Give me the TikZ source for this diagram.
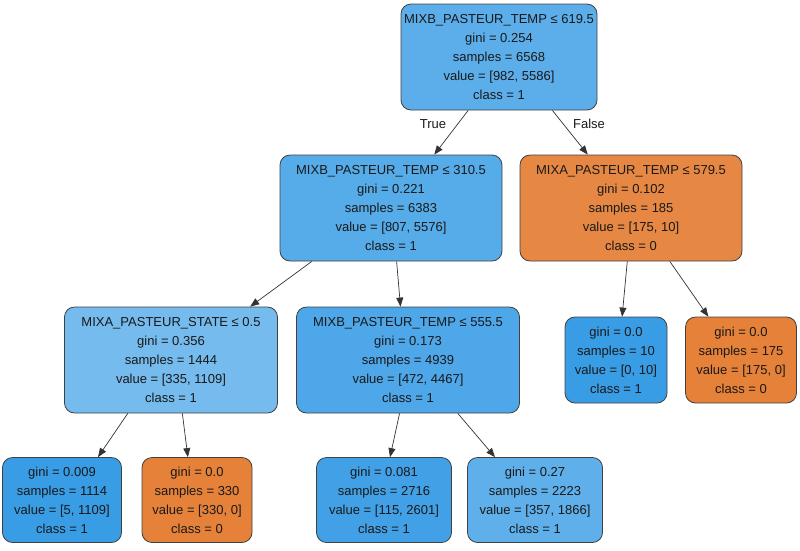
\documentclass[tikz,border=0pt]{standalone}
\usepackage{fontspec}
\setmainfont{Liberation Sans}
\usetikzlibrary{arrows.meta}

\definecolor{rootfill}{RGB}{92,174,234}
\definecolor{leftfill}{RGB}{86,171,233}
\definecolor{rightfill}{RGB}{230,136,68}
\definecolor{statefill}{RGB}{117,187,237}
\definecolor{tempfill}{RGB}{78,167,232}
\definecolor{pureblue}{RGB}{57,157,229}
\definecolor{pureorange}{RGB}{229,129,57}
\definecolor{leafnine}{RGB}{66,161,230}
\definecolor{leaften}{RGB}{95,176,234}

\begin{document}
\begin{tikzpicture}[x=1pt, y=-1pt,
  treenode/.style={draw=black!75, line width=0.8pt, rounded corners=10pt,
    align=center, inner sep=0pt, text=black!90,
    font=\fontsize{13}{19}\selectfont},
  treeedge/.style={draw=black!80, line width=0.7pt, -{Triangle[length=9pt,width=7pt]}},
  edgelabel/.style={font=\fontsize{13}{15}\selectfont, text=black!90}]
  \useasboundingbox (0,0) rectangle (800,550);
  % draw split nodes
  \node[treenode, fill=rootfill, minimum width=196pt, minimum height=106pt] (root) at (499,57)
    {MIXB\_PASTEUR\_TEMP ≤ 619.5\\gini = 0.254\\samples = 6568\\value = [982, 5586]\\class = 1};
  \node[treenode, fill=leftfill, minimum width=222pt, minimum height=106pt] (temp_low) at (391,208)
    {MIXB\_PASTEUR\_TEMP ≤ 310.5\\gini = 0.221\\samples = 6383\\value = [807, 5576]\\class = 1};
  \node[treenode, fill=rightfill, minimum width=222pt, minimum height=106pt] (temp_high) at (631,208)
    {MIXA\_PASTEUR\_TEMP ≤ 579.5\\gini = 0.102\\samples = 185\\value = [175, 10]\\class = 0};
  \node[treenode, fill=statefill, minimum width=213pt, minimum height=106pt] (state_split) at (171,360)
    {MIXA\_PASTEUR\_STATE ≤ 0.5\\gini = 0.356\\samples = 1444\\value = [335, 1109]\\class = 1};
  \node[treenode, fill=tempfill, minimum width=223pt, minimum height=106pt] (temp_mid) at (408,360)
    {MIXB\_PASTEUR\_TEMP ≤ 555.5\\gini = 0.173\\samples = 4939\\value = [472, 4467]\\class = 1};
  % draw leaf nodes
  \node[treenode, fill=pureblue, minimum width=102pt, minimum height=86pt] (leaf_a) at (616,360)
    {gini = 0.0\\samples = 10\\value = [0, 10]\\class = 1};
  \node[treenode, fill=pureorange, minimum width=111pt, minimum height=86pt] (leaf_b) at (741,360)
    {gini = 0.0\\samples = 175\\value = [175, 0]\\class = 0};
  \node[treenode, fill=pureblue, minimum width=119pt, minimum height=85pt] (leaf_c) at (62,500)
    {gini = 0.009\\samples = 1114\\value = [5, 1109]\\class = 1};
  \node[treenode, fill=pureorange, minimum width=110pt, minimum height=85pt] (leaf_d) at (197,500)
    {gini = 0.0\\samples = 330\\value = [330, 0]\\class = 0};
  \node[treenode, fill=leafnine, minimum width=135pt, minimum height=85pt] (leaf_e) at (384,500)
    {gini = 0.081\\samples = 2716\\value = [115, 2601]\\class = 1};
  \node[treenode, fill=leaften, minimum width=135pt, minimum height=85pt] (leaf_f) at (535,500)
    {gini = 0.27\\samples = 2223\\value = [357, 1866]\\class = 1};
  % draw edges between nodes
  \draw[treeedge] (root.-120) -- (temp_low.51);
  \draw[treeedge] (root.-45) -- (temp_high.129);
  \draw[treeedge] (temp_low.214) -- (state_split.34);
  \draw[treeedge] (temp_low.-84) -- (temp_mid.98);
  \draw[treeedge] (temp_high.-94) -- (leaf_a.82);
  \draw[treeedge] (temp_high.-54) -- (leaf_b.127);
  \draw[treeedge] (state_split.-129) -- (leaf_c.50);
  \draw[treeedge] (state_split.-78) -- (leaf_d.102);
  \draw[treeedge] (temp_mid.-99) -- (leaf_e.82);
  \draw[treeedge] (temp_mid.-47) -- (leaf_f.133);
  % edge labels
  \node[edgelabel] (true_label) at (433,124) {True};
  \node[edgelabel] (false_label) at (589,124) {False};
\end{tikzpicture}
\end{document}
